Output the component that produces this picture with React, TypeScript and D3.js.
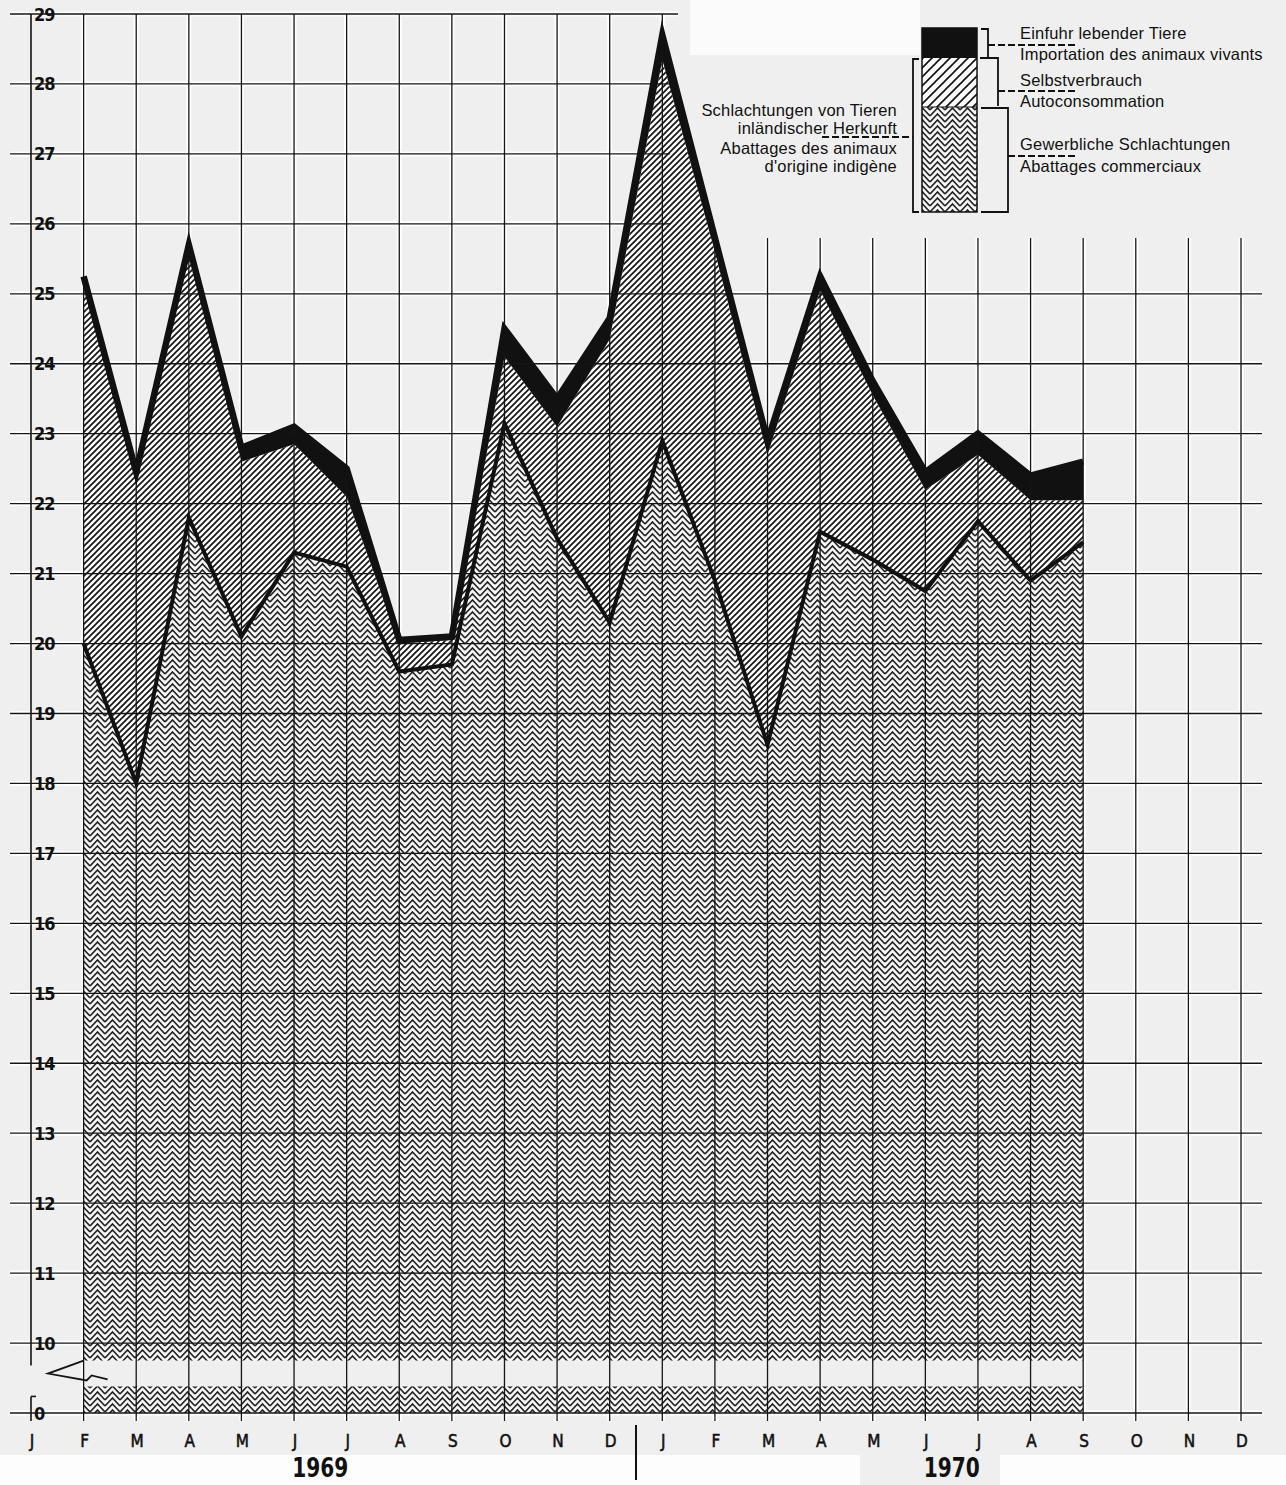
import React from 'react'
import * as d3 from 'd3'

// months Jan 1969 .. Dec 1970
const months = ['J', 'F', 'M', 'A', 'M', 'J', 'J', 'A', 'S', 'O', 'N', 'D', 'J', 'F', 'M', 'A', 'M', 'J', 'J', 'A', 'S', 'O', 'N', 'D']
const years = [
  { label: '1969', from: 0, to: 11 },
  { label: '1970', from: 12, to: 23 }
]

// Gewerbliche Schlachtungen / Abattages commerciaux
const gewerbliche = [null, 20.0, 18.0, 21.8, 20.1, 21.3, 21.1, 19.6, 19.7, 23.15, 21.5, 20.3, 22.9, 20.9, 18.55, 21.6, 21.2, 20.75, 21.75, 20.9, 21.45, null, null, null]
// Selbstverbrauch / Autoconsommation
const selbstverbrauch = [null, 5.15, 4.35, 3.8, 2.5, 1.55, 1.0, 0.4, 0.35, 0.95, 1.6, 4.05, 5.45, 4.7, 4.15, 3.45, 2.35, 1.45, 0.95, 1.15, 0.6, null, null, null]
// Einfuhr lebender Tiere / Importation des animaux vivants
const einfuhr = [null, 0.1, 0.1, 0.1, 0.2, 0.25, 0.4, 0.05, 0.05, 0.4, 0.4, 0.3, 0.35, 0.2, 0.2, 0.2, 0.2, 0.25, 0.3, 0.35, 0.55, null, null, null]

// value axis: 10..29, the broken bottom shows "0"
const yTicks = d3.range(10, 30)
const axisBottom = 9
const breakBand = [9.38, 9.75]

const W = 1286
const H = 1485

const x = d3.scaleLinear().domain([0, 23]).range([31, 1241])
const y = d3.scaleLinear().domain([axisBottom, 29]).range([1413, 14])

type Row = { i: number; g: number; s: number; e: number }

const rows: Row[] = months
  .map((_, i) => ({ i, g: gewerbliche[i] as number, s: selbstverbrauch[i] as number, e: einfuhr[i] as number }))
  .filter((d) => gewerbliche[d.i] != null)

const areaG = d3
  .area<Row>()
  .x((d) => x(d.i))
  .y0(y(axisBottom))
  .y1((d) => y(d.g))
const areaS = d3
  .area<Row>()
  .x((d) => x(d.i))
  .y0((d) => y(d.g))
  .y1((d) => y(d.g + d.s))
const areaE = d3
  .area<Row>()
  .x((d) => x(d.i))
  .y0((d) => y(d.g + d.s))
  .y1((d) => y(d.g + d.s + d.e))
const lineG = d3
  .line<Row>()
  .x((d) => x(d.i))
  .y((d) => y(d.g))
const lineTop = d3
  .line<Row>()
  .x((d) => x(d.i))
  .y((d) => y(d.g + d.s + d.e))

const sans = '"Liberation Sans", Arial, sans-serif'
const cond = '"DejaVu Sans Condensed", "DejaVu Sans", sans-serif'

export default function App() {
  const hLines = [axisBottom, ...yTicks]
  const lastFull = 12
  const rightTop = 238

  const hx2 = (v: number) => (v >= 29 ? 678 : v >= 26 ? 670 : 1262)
  const vy1 = (i: number) => (i <= lastFull ? y(29) : rightTop)

  return (
    <svg width={W} height={H} style={{ position: 'absolute', left: 0, top: 0 }}>
      <defs>
        <pattern id="zig" width="15" height="6" patternUnits="userSpaceOnUse">
          <rect width="15" height="6" fill="#f6f6f6" />
          <path
            d="M0,-4 L7.5,-12 L15,-4 M0,2 L7.5,-6 L15,2 M0,8 L7.5,0 L15,8 M0,14 L7.5,6 L15,14"
            stroke="#222"
            strokeWidth="1.6"
            fill="none"
          />
        </pattern>
        <pattern id="hatch" width="6" height="6" patternUnits="userSpaceOnUse">
          <rect width="6" height="6" fill="#fbfbfb" />
          <path d="M-1,7 L7,-1 M-4,4 L4,-4 M2,10 L10,2" stroke="#111" strokeWidth="1.6" />
        </pattern>
        <pattern id="hatchLegend" width="9" height="9" patternUnits="userSpaceOnUse">
          <rect width="9" height="9" fill="#fbfbfb" />
          <path d="M-1,10 L10,-1 M-5,5 L5,-5 M4,14 L14,4" stroke="#111" strokeWidth="1.6" />
        </pattern>
      </defs>

      <rect width={W} height={H} fill="#efefef" />
      <rect x={690} y={0} width={230} height={55} fill="#fbfbfb" />
      <rect x={0} y={1455} width={860} height={30} fill="#fdfdfd" />
      <rect x={1000} y={1455} width={286} height={30} fill="#fdfdfd" />

      {/* grid halos */}
      <g stroke="#fff" strokeWidth={5}>
        {hLines.map((v) => (
          <line key={`hh${v}`} x1={10} x2={hx2(v)} y1={y(v)} y2={y(v)} />
        ))}
        {months.map((_, i) =>
          i === 0 ? null : <line key={`vh${i}`} x1={x(i)} x2={x(i)} y1={vy1(i)} y2={1421} />
        )}
      </g>

      {/* stacked areas */}
      <path d={areaG(rows) ?? ''} fill="url(#zig)" />
      <path d={areaS(rows) ?? ''} fill="url(#hatch)" />
      <path d={areaE(rows) ?? ''} fill="#111" />

      {/* axis break band */}
      <rect x={x(1) - 1} y={y(breakBand[1])} width={x(20) - x(1) + 2} height={y(breakBand[0]) - y(breakBand[1])} fill="#efefef" />

      {/* grid */}
      <g stroke="#151515" strokeWidth={1.3}>
        {hLines.map((v) => (
          <line key={`h${v}`} x1={10} x2={hx2(v)} y1={y(v)} y2={y(v)} />
        ))}
        {months.map((_, i) =>
          i === 0 ? null : <line key={`v${i}`} x1={x(i)} x2={x(i)} y1={vy1(i)} y2={1421} />
        )}
      </g>

      {/* series outlines */}
      <path d={lineG(rows) ?? ''} fill="none" stroke="#111" strokeWidth={4} strokeLinejoin="miter" strokeMiterlimit={6} />
      <path d={lineTop(rows) ?? ''} fill="none" stroke="#111" strokeWidth={6.5} strokeLinejoin="miter" strokeMiterlimit={6} />

      {/* value axis with break */}
      <g stroke="#151515" strokeWidth={1.6} fill="none">
        <line x1={x(0)} x2={x(0)} y1={y(29)} y2={y(breakBand[1]) + 5} />
        <line x1={x(0)} x2={x(0)} y1={y(breakBand[0]) + 10} y2={1421} />
        <line x1={x(0)} x2={x(0) + 5} y1={y(breakBand[0]) + 10} y2={y(breakBand[0]) + 10} />
        <path d={`M${x(1)},${y(breakBand[1])} L${x(0) + 17},${y(breakBand[1]) + 13} L${x(1) + 3},${y(breakBand[0]) - 6} L${x(1) + 8},${y(breakBand[0]) - 11} L${x(1) + 24},${y(breakBand[0]) - 7}`} strokeWidth={1.8} />
      </g>
      <g fontFamily={cond} fontWeight="bold" fontSize={18} fill="#111">
        {hLines.map((v) => (
          <text key={`yl${v}`} x={x(0) + 3} y={y(v)} dominantBaseline="central" letterSpacing={-1}>
            {v === axisBottom ? '0' : v}
          </text>
        ))}
      </g>

      {/* month labels */}
      <g fontFamily={cond} fontSize={17} fill="#111" stroke="#111" strokeWidth={0.5} textAnchor="middle">
        {months.map((m, i) => (
          <text key={`m${i}`} x={x(i) + 1} y={1447}>
            {m}
          </text>
        ))}
      </g>
      {years.map((yr) => (
        <text
          key={yr.label}
          x={(x(yr.from) + x(yr.to)) / 2}
          y={1477}
          textAnchor="middle"
          fontFamily={cond}
          fontWeight="bold"
          fontSize={26}
          textLength={56}
          lengthAdjust="spacingAndGlyphs"
          fill="#111"
        >
          {yr.label}
        </text>
      ))}
      <line x1={(x(11) + x(12)) / 2} x2={(x(11) + x(12)) / 2} y1={1425} y2={1480} stroke="#111" strokeWidth={2} />

      {/* legend */}
      <g>
        <rect x={922} y={28} width={55} height={30} fill="#111" />
        <rect x={922} y={58} width={55} height={49} fill="url(#hatchLegend)" />
        <rect x={922} y={107} width={55} height={105} fill="url(#zig)" />
        <rect x={922} y={28} width={55} height={184} fill="none" stroke="#111" strokeWidth={1.5} />
        <line x1={922} x2={977} y1={107} y2={107} stroke="#111" strokeWidth={1.2} />
        <g stroke="#111" strokeWidth={1.8} fill="none">
          <path d="M981,29 H988 V58" />
          <path d="M980,58 H998 V106" />
          <path d="M981,108 H1008 V212 H981" />
          <path d="M919,59 H913 V212 H919" />
        </g>
        <g stroke="#111" strokeWidth={1.8} strokeDasharray="7 3">
          <line x1={988} x2={1078} y1={45} y2={45} />
          <line x1={998} x2={1078} y1={91} y2={91} />
          <line x1={1008} x2={1078} y1={156} y2={156} />
          <line x1={822} x2={913} y1={137} y2={137} />
        </g>
        <g fontFamily={sans} fontSize={16.5} fill="#111" letterSpacing={0.2}>
          <text x={1020} y={39}>Einfuhr lebender Tiere</text>
          <text x={1020} y={60}>Importation des animaux vivants</text>
          <text x={1020} y={86}>Selbstverbrauch</text>
          <text x={1020} y={107}>Autoconsommation</text>
          <text x={1020} y={150}>Gewerbliche Schlachtungen</text>
          <text x={1020} y={172}>Abattages commerciaux</text>
        </g>
        <g fontFamily={sans} fontSize={16.5} fill="#111" letterSpacing={0.2} textAnchor="end">
          <text x={897} y={116}>Schlachtungen von Tieren</text>
          <text x={897} y={134}>inländischer Herkunft</text>
          <text x={897} y={154}>Abattages des animaux</text>
          <text x={897} y={172}>d'origine indigène</text>
        </g>
      </g>
    </svg>
  )
}
